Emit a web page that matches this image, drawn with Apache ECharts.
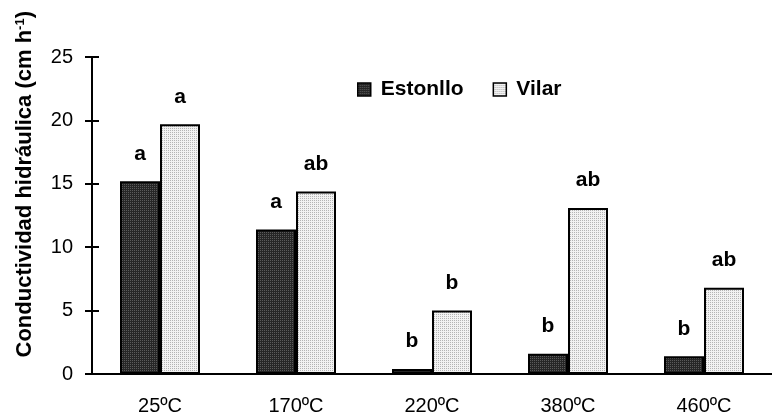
<!DOCTYPE html>
<html><head><meta charset="utf-8">
<script src="https://cdn.jsdelivr.net/npm/echarts@6/dist/echarts.min.js"></script>
<style>html,body{margin:0;padding:0;background:#fff}#c{width:772px;height:416px}</style>
</head><body><div id="c"></div>
<script>
var categories = ['25ºC', '170ºC', '220ºC', '380ºC', '460ºC'];
var estonllo = [15.2, 11.4, 0.4, 1.6, 1.4];
var vilar = [19.7, 14.4, 5.0, 13.1, 6.8];
var estonlloLetters = ['a', 'a', 'b', 'b', 'b'];
var vilarLetters = ['a', 'ab', 'b', 'ab', 'ab'];
var yTicks = [0, 5, 10, 15, 20, 25];

function pattern(c1, c2) {
  var cv = document.createElement('canvas');
  cv.width = 4; cv.height = 4;
  var ctx = cv.getContext('2d');
  ctx.fillStyle = c1; ctx.fillRect(0, 0, 4, 4);
  ctx.fillStyle = c2;
  ctx.fillRect(0, 0, 1, 1); ctx.fillRect(2, 2, 1, 1);
  ctx.fillRect(2, 0, 1, 1); ctx.fillRect(0, 2, 1, 1);
  return { image: cv, repeat: 'repeat' };
}
var darkFill = pattern('#262626', '#5a5a5a');
var lightFill = pattern('#f2f2f2', '#b4b4b4');

var font = 'Liberation Sans, Arial, sans-serif';
var chart = echarts.init(document.getElementById('c'), null, { renderer: 'canvas' });
var lblStyle = { show: true, position: 'top', distance: 17, fontFamily: font, fontWeight: 'bold', fontSize: 21, color: '#000' };
chart.setOption({
  animation: false,
  grid: { left: 92, right: 0, top: 57, bottom: 41 },
  legend: {
    left: 352, top: 74, itemWidth: 13, itemHeight: 13, itemGap: 29, icon: 'rect',
    textStyle: { fontFamily: font, fontWeight: 'bold', fontSize: 21, color: '#000', padding: [0, 0, 0, 5] },
    data: [
      { name: 'Estonllo', itemStyle: { color: darkFill, borderColor: '#000', borderWidth: 1.5 } },
      { name: 'Vilar', itemStyle: { color: lightFill, borderColor: '#000', borderWidth: 1.5 } }
    ]
  },
  graphic: [{
    type: 'text', left: 14, top: 11, rotation: Math.PI / 2,
    style: {
      text: 'Conductividad hidráulica (cm h{sup|-1})',
      font: 'bold 22px ' + font, fill: '#000',
      rich: { sup: { fontSize: 13, fontWeight: 'bold', fontFamily: font, verticalAlign: 'top', padding: [0, 0, 9, 0] } }
    }
  }],
  xAxis: [{
    type: 'category', data: categories,
    axisLine: { lineStyle: { color: '#000', width: 2 } },
    axisTick: { length: 7, lineStyle: { color: '#000', width: 2 } },
    axisLabel: { margin: 22, fontFamily: font, fontSize: 20, color: '#000' }
  }, {
    type: 'category', data: categories, position: 'bottom', offset: 0,
    axisLine: { show: false },
    axisTick: { inside: true, length: 3, lineStyle: { color: '#000', width: 2 } },
    axisLabel: { show: false }
  }],
  yAxis: [{
    type: 'value', min: 0, max: 25, interval: 5,
    axisLine: { show: true, lineStyle: { color: '#000', width: 2 } },
    axisTick: { show: true, length: 7, lineStyle: { color: '#000', width: 2 } },
    axisLabel: { margin: 19, fontFamily: font, fontSize: 20, color: '#000',
      formatter: function (v) { return yTicks.indexOf(v) >= 0 ? String(v) : ''; } },
    splitLine: { show: false }
  }, {
    type: 'value', min: 0, max: 25, interval: 5, position: 'left', offset: 0,
    axisLine: { show: false },
    axisTick: { show: true, inside: true, length: 7, lineStyle: { color: '#000', width: 2 } },
    axisLabel: { show: false }, splitLine: { show: false }
  }],
  series: [{
    name: 'Estonllo', type: 'bar', barWidth: 40, barGap: '0%',
    data: estonllo,
    itemStyle: { color: darkFill, borderColor: '#000', borderWidth: 2 },
    label: Object.assign({}, lblStyle, { formatter: function (p) { return estonlloLetters[p.dataIndex]; } })
  }, {
    name: 'Vilar', type: 'bar', barWidth: 40, barGap: '0%',
    data: vilar,
    itemStyle: { color: lightFill, borderColor: '#000', borderWidth: 2 },
    label: Object.assign({}, lblStyle, { formatter: function (p) { return vilarLetters[p.dataIndex]; } })
  }]
});
</script></body></html>
